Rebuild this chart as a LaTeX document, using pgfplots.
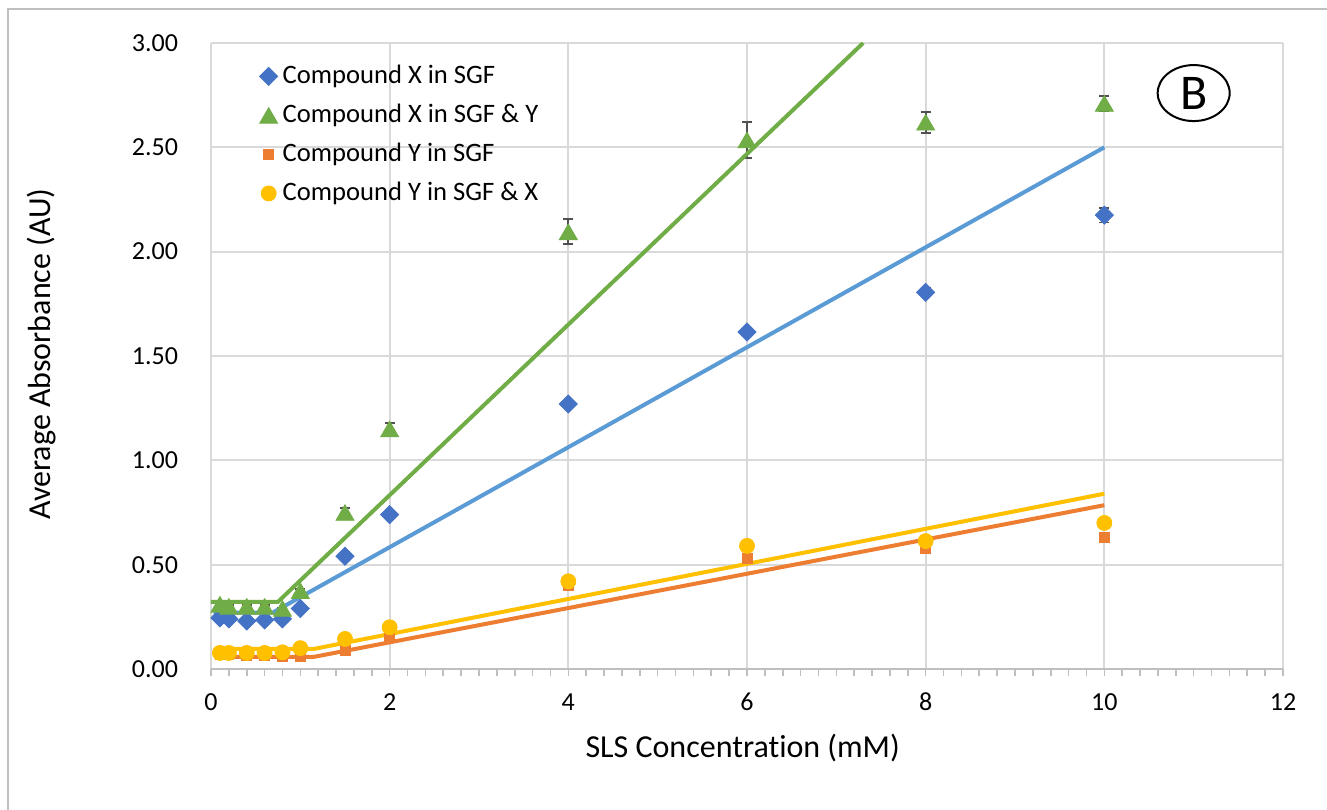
\documentclass[border=0pt]{standalone}
\usepackage{pgfplots}
\pgfplotsset{compat=1.18}
\usepackage{pgfplotstable}
\usepackage{fontspec}
\setmainfont{Carlito}[Ligatures=NoCommon]
\usetikzlibrary{plotmarks}

\definecolor{xblue}{HTML}{4472C4}
\definecolor{lblue}{HTML}{5B9BD5}
\definecolor{xgreen}{HTML}{70AD47}
\definecolor{xorange}{HTML}{ED7D31}
\definecolor{xyellow}{HTML}{FFC000}
\definecolor{gridgray}{HTML}{D9D9D9}
\definecolor{axgray}{HTML}{BFBFBF}
\definecolor{errgray}{HTML}{505050}

\pgfplotstableread{
x y e
0.1 0.245 0.005
0.2 0.24 0.005
0.4 0.23 0.005
0.6 0.235 0.005
0.8 0.24 0.005
1.0 0.29 0.008
1.5 0.54 0.01
2 0.74 0.01
4 1.27 0.015
6 1.615 0.02
8 1.805 0.02
10 2.175 0.035
}\xsgf

\pgfplotstableread{
x y e
0.1 0.31 0.005
0.2 0.30 0.005
0.4 0.30 0.005
0.6 0.30 0.005
0.8 0.29 0.005
1.0 0.375 0.01
1.5 0.75 0.02
2 1.15 0.03
4 2.095 0.06
6 2.535 0.088
8 2.62 0.05
10 2.71 0.035
}\xsgfy

\pgfplotstableread{
x y e
0.1 0.07 0.003
0.2 0.07 0.003
0.4 0.065 0.003
0.6 0.065 0.003
0.8 0.06 0.003
1.0 0.06 0.003
1.5 0.09 0.005
2 0.15 0.005
4 0.40 0.01
6 0.53 0.01
8 0.58 0.01
10 0.632 0.01
}\ysgf

\pgfplotstableread{
x y e
0.1 0.077 0.003
0.2 0.077 0.003
0.4 0.077 0.003
0.6 0.077 0.003
0.8 0.08 0.003
1.0 0.10 0.003
1.5 0.144 0.005
2 0.20 0.005
4 0.42 0.01
6 0.59 0.01
8 0.613 0.01
10 0.70 0.01
}\ysgfx

\begin{document}
\begin{tikzpicture}
\path[use as bounding box] (-105.5bp,-70.5bp) rectangle (558bp,334.5bp);
\fill[white] (-105.5bp,-70.5bp) rectangle (558bp,334.5bp);
\draw[axgray, line width=1bp] (-101.5bp,-71bp) -- (-101.5bp,330bp) -- (559bp,330bp);
\begin{axis}[
  at={(0,0)}, anchor=south west,
  scale only axis, width=536bp, height=313bp,
  xmin=0, xmax=12, ymin=0, ymax=3,
  axis x line*=bottom, axis y line*=left,
  x axis line style={axgray, line width=0.9bp, -},
  y axis line style={draw=none},
  xtick={0,2,4,6,8,10,12},
  xticklabels={0,2,4,6,8,10,12},
  ytick={0,0.5,1,1.5,2,2.5,3},
  yticklabels={0.00,0.50,1.00,1.50,2.00,2.50,3.00},
  minor x tick num=9,
  tick align=outside,
  major tick length=3.5bp, minor tick length=3.5bp,
  x tick style={axgray, line width=0.8bp},
  y tick style={draw=none},
  grid=major,
  major grid style={gridgray, line width=0.9bp},
  tick label style={font=\fontsize{13bp}{15bp}\selectfont, inner sep=0pt},
  xticklabel style={anchor=center, yshift=-16.5bp+3.5bp},
  yticklabel style={anchor=center, xshift=-24.5bp},
  xlabel={SLS Concentration (mM)},
  ylabel={Average Absorbance (AU)},
  label style={font=\fontsize{16bp}{19bp}\selectfont},
  xlabel style={at={(axis description cs:0.496,-0.1262)}, anchor=center},
  ylabel style={at={(axis description cs:-0.1577,0.503)}, anchor=center},
  legend style={at={(0.045,0.968)}, anchor=north west, draw=none, fill=none,
    inner sep=0pt, row sep=6.5bp,
    font=\fontsize{13.3bp}{15bp}\selectfont,
    nodes={inner sep=0pt, text height=10bp, text depth=3bp},
    /tikz/every odd column/.append style={column sep=2.5bp}},
  legend cell align=left,
  legend image code/.code={\draw[#1] plot coordinates {(0bp,0bp)};},
  error bars/y dir=both, error bars/y explicit,
  error bars/error bar style={errgray, line width=0.9bp},
  error bars/error mark options={errgray, line width=0.9bp, mark size=2.5bp, rotate=90},
]
\addplot[only marks, mark=square*, mark size=3.2bp, mark options={draw=xblue, fill=xblue, rotate=45}]
  table[x=x, y=y, y error=e] {\xsgf};
\addlegendentry{Compound X in SGF}
\addplot[only marks, mark=triangle*, mark size=5.2bp, mark options={draw=xgreen, fill=xgreen, yshift=-1.3bp}]
  table[x=x, y=y, y error=e] {\xsgfy};
\addlegendentry{Compound X in SGF \& Y}
\addplot[only marks, mark=square*, mark size=2.5bp, mark options={draw=xorange, fill=xorange}]
  table[x=x, y=y, y error=e] {\ysgf};
\addlegendentry{Compound Y in SGF}
\addplot[only marks, mark=*, mark size=3.75bp, mark options={draw=xyellow, fill=xyellow}]
  table[x=x, y=y, y error=e] {\ysgfx};
\addlegendentry{Compound Y in SGF \& X}

\addplot[forget plot, no marks, lblue, line width=2bp, error bars/y dir=none]
  coordinates {(0.03,0.27) (0.69,0.27) (10,2.50)};
\addplot[forget plot, no marks, xgreen, line width=2bp, error bars/y dir=none]
  coordinates {(0,0.322) (0.75,0.322) (7.30,3.0)};
\addplot[forget plot, no marks, xorange, line width=2bp, error bars/y dir=none]
  coordinates {(0.1,0.058) (1.15,0.058) (10,0.785)};
\addplot[forget plot, no marks, xyellow, line width=2bp, error bars/y dir=none]
  coordinates {(0.1,0.096) (1.15,0.096) (10,0.84)};

\draw[black, line width=1bp] (axis cs:11,2.76) ellipse [x radius=18bp, y radius=14bp];
\node[font=\fontsize{25bp}{30bp}\selectfont, inner sep=0pt] at (axis cs:11,2.76) {B};
\end{axis}
\end{tikzpicture}
\end{document}
